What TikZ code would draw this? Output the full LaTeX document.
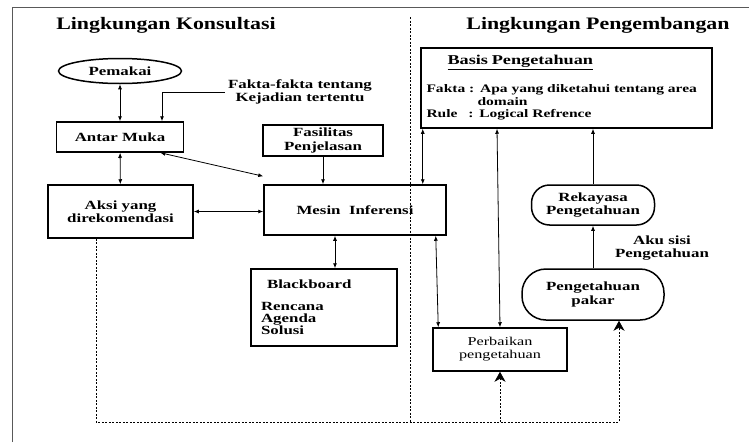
\documentclass[tikz,border=0pt]{standalone}
\usepackage{fontspec}
\setmainfont{Liberation Serif}[FakeStretch=1.25]
\newfontfamily\kotakfont{Liberation Serif}[FakeStretch=1.35]
\usetikzlibrary{shapes.geometric,arrows.meta}

\begin{document}
\begin{tikzpicture}[x=1pt,y=-1pt,>={Latex[length=5pt,width=4pt]},
    kotak/.style={draw,line width=1.5pt,font=\kotakfont\bfseries\fontsize{12.5}{13.5}\selectfont,align=center,inner sep=2pt},
    oval/.style={kotak,ellipse},
    bulat/.style={kotak,rounded corners=#1},
    panah/.style={line width=0.8pt},
    putus/.style={line width=0.8pt,dash pattern=on 2pt off 1.5pt},
    ujung/.style={-{Stealth[length=10pt,width=11pt,inset=3pt]}},
    judul/.style={font=\bfseries\fontsize{17.5}{20}\selectfont},
    teks/.style={font=\kotakfont\bfseries\fontsize{12.5}{13}\selectfont,align=center}]
    \useasboundingbox (0,0) rectangle (749,442);
    % bingkai
    \draw[line width=1pt,black!65] (12,442) -- (12,7) -- (749,7);
    \node[judul] (konsultasi) at (166,25) {Lingkungan Konsultasi};
    \node[judul] (pengembangan) at (598,25) {Lingkungan Pengembangan};
    \coordinate (batasatas) at (410,17);
    \coordinate (batasbawah) at (410,422);
    \draw[putus] (batasatas) -- (batasbawah);

    % lingkungan konsultasi
    \node[oval,minimum width=123pt,minimum height=25pt] (pemakai) at (120,71) {Pemakai};
    \node[teks] (fakta) at (300,92) {Fakta-fakta tentang\\Kejadian tertentu};
    \node[kotak,minimum width=127pt,minimum height=30pt] (antarmuka) at (120,137) {Antar Muka};
    \node[kotak,minimum width=145pt,minimum height=53pt] (aksi) at (120.5,211.5) {Aksi yang\\direkomendasi};
    \node[kotak,minimum width=120pt,minimum height=31pt] (fasilitas) at (323,140.5) {Fasilitas\\Penjelasan};
    \node[kotak,minimum width=182pt,minimum height=50pt] (mesin) at (355,210) {Mesin\ \ Inferensi};
    \node[kotak,font=\kotakfont\bfseries\fontsize{12.5}{12}\selectfont,minimum width=146pt,minimum height=77pt,
        text width=126pt,align=left] (papan) at (324,307.5)
        {\hspace*{6pt}Blackboard\\[10pt]Rencana\\Agenda\\Solusi};

    % lingkungan pengembangan
    \node[kotak,font=\kotakfont\bfseries\fontsize{11.5}{12.5}\selectfont,minimum width=291pt,minimum height=80pt,
        text width=280pt,align=left] (basis) at (566.5,88)
        {\hspace*{21pt}{\fontsize{13.5}{14}\selectfont\underline{Basis Pengetahuan}}\\[14pt]
         Fakta : Apa yang diketahui tentang area\\
         \hspace*{51pt}domain\\
         Rule\hspace{7pt} : Logical Refrence};
    \node[bulat=18pt,minimum width=123pt,minimum height=40pt] (rekayasa) at (593,205) {Rekayasa\\Pengetahuan};
    \node[teks] (aku) at (662,248) {Aku sisi\\Pengetahuan};
    \node[bulat=24pt,minimum width=142pt,minimum height=51pt] (pakar) at (593,294.5) {Pengetahuan\\pakar};
    \node[kotak,font=\kotakfont\fontsize{12}{13}\selectfont,minimum width=134pt,minimum height=43pt] (perbaikan) at (500,349.5) {Perbaikan\\pengetahuan};

    % panah
    \draw[panah,<->] (pemakai) -- (antarmuka);
    \draw[panah,->] (fakta.west) -| ([xshift=42pt]antarmuka.north);
    \draw[panah,<->] (antarmuka) -- (aksi);
    \draw[panah,<->] ([xshift=-24pt]antarmuka.south east) -- ([yshift=8pt]mesin.north west);
    \draw[panah,<->] (aksi.east) -- (aksi.east -| mesin.west);
    \draw[panah,->] (fasilitas) -- (fasilitas |- mesin.north);
    \draw[panah,<->] ([xshift=11pt]papan.north) -- ([xshift=11pt]papan.north |- mesin.south);
    \draw[panah,<->] ([xshift=-24pt]mesin.north east) -- ([xshift=-24pt]mesin.north east |- basis.south);
    \draw[panah,<->] ([xshift=-11pt]mesin.south east) -- ([xshift=6pt]perbaikan.north west);
    \draw[panah,<->] (perbaikan.north) -- ([xshift=-69.5pt]basis.south);
    \draw[panah,->] (rekayasa) -- (rekayasa |- basis.south);
    \draw[panah,->] (pakar) -- (rekayasa);

    % umpan balik
    \coordinate (bawah) at (96,422);
    \draw[putus,ujung] ([xshift=-24.5pt]aksi.south) |- (bawah) -| ([xshift=26pt]pakar.south);
    \draw[putus,ujung] (perbaikan.south |- bawah) -- (perbaikan.south);
\end{tikzpicture}
\end{document}
